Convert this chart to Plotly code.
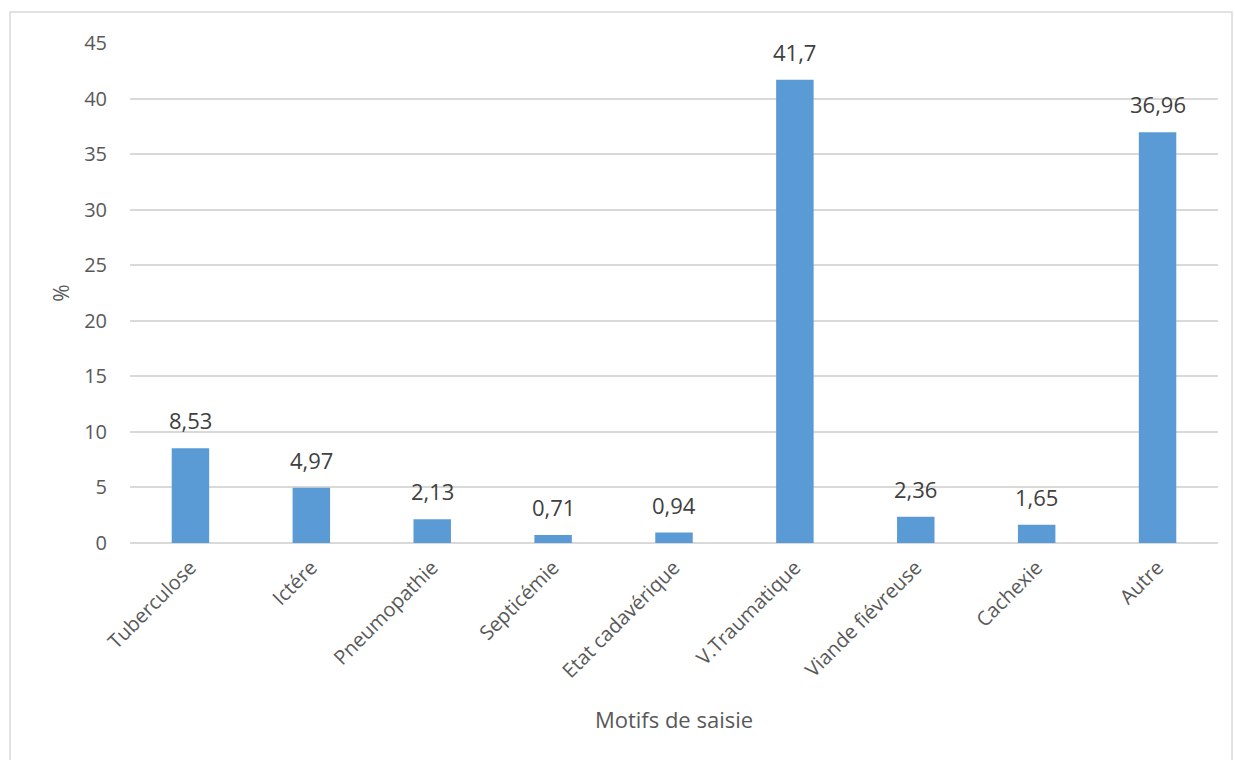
import plotly.graph_objects as go

categories = ["Tuberculose", "Ictére", "Pneumopathie", "Septicémie", "Etat cadavérique",
              "V.Traumatique", "Viande fiévreuse", "Cachexie", "Autre"]
values = [8.53, 4.97, 2.13, 0.71, 0.94, 41.7, 2.36, 1.65, 36.96]
y_ticks = [0, 5, 10, 15, 20, 25, 30, 35, 40, 45]

labels = [f"{v:g}".replace(".", ",") for v in values]

font_family = "Open Sans, Liberation Sans, sans-serif"
grey_text = "#595959"

fig = go.Figure(
    go.Bar(
        x=categories,
        y=values,
        marker=dict(color="#5B9BD5", line=dict(width=0)),
        width=0.31,
        cliponaxis=False,
    )
)

# Value labels above each bar
for cat, val, lab in zip(categories, values, labels):
    fig.add_annotation(
        x=cat, y=val, text=lab, showarrow=False,
        yanchor="bottom", yshift=11,
        font=dict(family=font_family, size=22, color="#404040"),
    )

fig.update_layout(
    width=1235,
    height=760,
    margin=dict(l=130, r=17, t=43, b=217),
    plot_bgcolor="white",
    paper_bgcolor="white",
    showlegend=False,
    font=dict(family=font_family, color=grey_text),
    separators=", ",
)

fig.update_yaxes(
    range=[0, 45],
    tickvals=y_ticks,
    ticktext=[str(t) for t in y_ticks],
    showgrid=True,
    gridcolor="#D9D9D9",
    gridwidth=1.5,
    zeroline=True,
    zerolinecolor="#D9D9D9",
    zerolinewidth=1.5,
    showline=False,
    ticks="",
    ticklabelstandoff=22,
    tickfont=dict(size=20, color=grey_text),
    title=dict(text="%", font=dict(size=21, color=grey_text), standoff=8),
)

fig.update_xaxes(
    tickangle=-45,
    tickfont=dict(size=20, color=grey_text),
    ticklabelstandoff=8,
    showgrid=False,
    showline=False,
    ticks="",
    title=dict(text="Motifs de saisie", font=dict(size=22, color=grey_text), standoff=30),
)

# Light frame around the chart area
fig.add_shape(
    type="rect", xref="paper", yref="paper",
    x0=-0.1103, x1=1.0129, y0=-0.5, y1=1.062,
    line=dict(color="#D9D9D9", width=1.5),
    fillcolor="rgba(0,0,0,0)",
    layer="below",
)

fig.write_html("out.html")
